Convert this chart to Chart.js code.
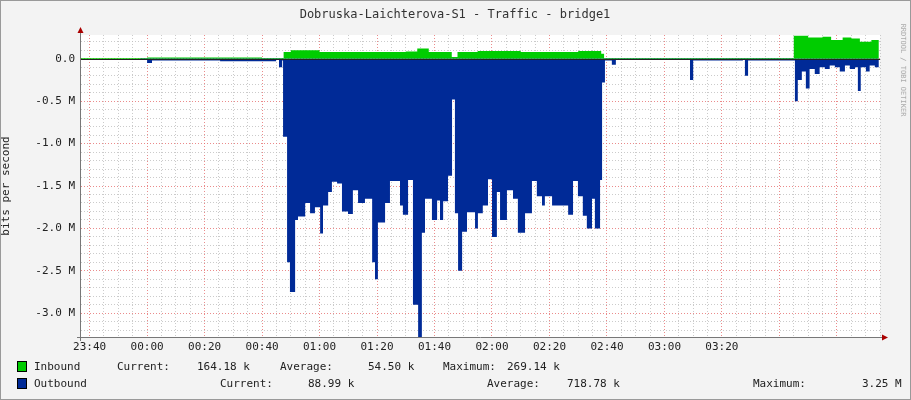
<!DOCTYPE html>
<html><head><meta charset="utf-8">
<script src="https://cdn.jsdelivr.net/npm/chart.js@4"></script>
<style>html,body{margin:0;padding:0;background:#f3f3f3}#w{width:911px;height:400px}</style>
</head><body><div id="w"><canvas id="c" width="911" height="400"></canvas></div>
<script>
// minutes after 23:40
const outTimes=[-3,17.6,20,21.7,45.4,64.9,65.9,67,67.3,68.4,68.7,69.7,70.8,71.5,72.5,74.3,75,76.7,78.4,80.2,81.2,83,84.3,86.1,87.8,89.9,91.6,93.4,95.8,98.3,99.3,100.3,102.8,104.5,106.3,108,109,110.8,112.5,114.3,115.6,116.7,119.1,120.9,121.9,123,124.7,126.1,127.1,128.2,129.6,131.3,134.1,135.1,136.8,138.6,140,141.7,142.8,145.2,147.3,149,151.5,153.9,155.6,157.4,158.4,160.9,166.1,166.5,168.2,169.9,171.6,173,174.8,175.8,177.6,178.3,179.3,181.7,183.1,208.2,208.9,210,227.3,228,229.1,244.7,245.4,246.4,247.8,249.2,250.5,252.3,254,255.8,257.5,259.3,261,262.8,264.5,266.3,267.3,268.3,270.1,271.4,273.2,274.6];
const outVals=[0,-0.01,-0.05,-0.02,-0.03,-0.01,-0.1,-0.02,-0.92,-0.92,-2.4,-2.75,-2.75,-1.9,-1.86,-1.86,-1.7,-1.82,-1.75,-2.06,-1.73,-1.57,-1.45,-1.47,-1.8,-1.83,-1.55,-1.7,-1.65,-2.4,-2.6,-1.93,-1.7,-1.44,-1.44,-1.73,-1.84,-1.43,-2.9,-3.28,-2.05,-1.65,-1.9,-1.67,-1.9,-1.68,-1.38,-0.48,-1.82,-2.5,-2.04,-1.81,-2.0,-1.82,-1.73,-1.42,-2.1,-1.57,-1.9,-1.55,-1.65,-2.05,-1.82,-1.44,-1.62,-1.73,-1.62,-1.73,-1.73,-1.84,-1.44,-1.62,-1.85,-2.0,-1.65,-2.0,-1.43,-0.28,-0.02,-0.07,-0.01,-0.01,-0.25,-0.02,-0.01,-0.2,-0.02,-0.02,-0.5,-0.25,-0.15,-0.35,-0.12,-0.18,-0.1,-0.12,-0.08,-0.1,-0.15,-0.08,-0.12,-0.1,-0.38,-0.1,-0.15,-0.08,-0.1,-0.1];
const inTimes=[-3,20,60,66,67.5,70,80,100,110,114,118,126,128,135,150,160,170,178,179,244.5,245,250,255,258,262,265,268,272,274.6];
const inVals=[0.01,0.015,0.01,0.01,0.08,0.1,0.08,0.08,0.085,0.12,0.08,0.02,0.08,0.09,0.08,0.08,0.09,0.06,0.01,0.01,0.27,0.25,0.26,0.22,0.25,0.24,0.2,0.22,0.2];
const yMajor=[0,-0.5,-1.0,-1.5,-2.0,-2.5,-3.0];
const timeLabels=["23:40","00:00","00:20","00:40","01:00","01:20","01:40","02:00","02:20","02:40","03:00","03:20"];
const legendRows=[
 {color:"#00cc00",items:[["Inbound",34],["Current:",117],["164.18 k",197],["Average:",280],["54.50 k",368],["Maximum:",443],["269.14 k",507]]},
 {color:"#002a97",items:[["Outbound",34],["Current:",220],["88.99 k",308],["Average:",487],["718.78 k",567],["Maximum:",753],["3.25 M",862]]}];

const FONT='"DejaVu Sans Mono"';
const pts=(t,v)=>t.map((x,i)=>({x,y:v[i]}));
const deco={id:'deco',
 beforeDraw(ch){const c=ch.ctx,a=ch.chartArea;c.save();c.fillStyle='#f3f3f3';c.fillRect(0,0,911,400);
  c.fillStyle='#fff';c.fillRect(a.left,a.top,a.right-a.left,a.bottom-a.top);c.restore();},
 afterDraw(ch){const c=ch.ctx,a=ch.chartArea;c.save();
  c.strokeStyle='#999';c.lineWidth=1;c.strokeRect(0.5,0.5,910,399);
  c.fillStyle='#333';c.font='12px '+FONT;c.textAlign='center';c.textBaseline='middle';
  c.fillText('Dobruska-Laichterova-S1 - Traffic - bridge1',455,15);
  // axes
  const y0=Math.round(ch.scales.y.getPixelForValue(0))+0.5;
  c.strokeStyle='#222';c.beginPath();c.moveTo(a.left,y0);c.lineTo(a.right,y0);c.stroke();
  c.strokeStyle='#777';c.beginPath();c.moveTo(a.left-0.5,a.top-4);c.lineTo(a.left-0.5,a.bottom+4);
  c.moveTo(a.left-4,a.bottom+0.5);c.lineTo(a.right+4,a.bottom+0.5);c.stroke();
  c.fillStyle='#a00';c.beginPath();c.moveTo(a.left-3.5,a.top-2);c.lineTo(a.left+2.5,a.top-2);c.lineTo(a.left-0.5,a.top-8);c.fill();
  c.beginPath();c.moveTo(a.right+2,a.bottom-2.5);c.lineTo(a.right+2,a.bottom+3.5);c.lineTo(a.right+8,a.bottom+0.5);c.fill();
  // right text
  c.save();c.translate(903,70);c.rotate(Math.PI/2);c.font='7px '+FONT;c.fillStyle='#aaa';c.fillText('RRDTOOL / TOBI OETIKER',0,0);c.restore();
  // legend
  c.font='11px '+FONT;c.textAlign='left';c.fillStyle='#222';
  legendRows.forEach((r,i)=>{const y=367+i*17;c.fillStyle=r.color;c.fillRect(18,y-5,8,9);c.strokeStyle='#000';c.strokeRect(17.5,y-5.5,9,10);
   c.fillStyle='#222';r.items.forEach(([s,x])=>c.fillText(s,x,y));});
  c.restore();}};
new Chart(document.getElementById('c'),{type:'line',
 data:{datasets:[
  {label:'Outbound',data:pts(outTimes,outVals),borderWidth:0,pointRadius:0,fill:'origin',backgroundColor:'#002a97',stepped:true},
  {label:'Inbound',data:pts(inTimes,inVals),borderWidth:0,pointRadius:0,fill:'origin',backgroundColor:'#00cc00',stepped:true}]},
 options:{responsive:false,animation:false,devicePixelRatio:1,
  layout:{padding:{top:35,right:31,left:0,bottom:0}},
  plugins:{legend:{display:false},tooltip:{enabled:false}},
  scales:{
   x:{type:'linear',min:-3,max:275,
    afterBuildTicks(s){const t=[];for(let m=0;m<=275;m+=5)t.push({value:m});s.ticks=t;},
    afterFit(s){s.height=63;},
    ticks:{autoSkip:false,maxRotation:0,color:'#222',font:{family:FONT,size:11},padding:4,
     callback:v=>v%20===0?timeLabels[v/20]||'':''},
    grid:{color:c=>c.tick&&c.tick.value%20===0?'rgba(230,110,110,0.8)':'rgba(190,190,190,0.8)',drawTicks:false},
    border:{display:false,dash:[1,2]}},
   y:{min:-3.28,max:0.28,
    afterBuildTicks(s){const t=[];for(let k=2;k>=-32;k--)t.push({value:k/10});s.ticks=t;},
    afterFit(s){s.width=81;},
    ticks:{autoSkip:false,color:'#222',font:{family:FONT,size:11},padding:6,
     callback:v=>{const r=Math.round(v*10);if(r%5!==0)return '';return r===0?'0.0':(v.toFixed(1)+' M');}},
    title:{display:true,text:'bits per second',color:'#222',font:{family:FONT,size:11},padding:0},
    grid:{color:c=>c.tick&&Math.round(c.tick.value*10)%5===0?'rgba(230,110,110,0.8)':'rgba(190,190,190,0.8)',drawTicks:false},
    border:{display:false,dash:[1,2]}}}},
 plugins:[deco]});
</script></body></html>
